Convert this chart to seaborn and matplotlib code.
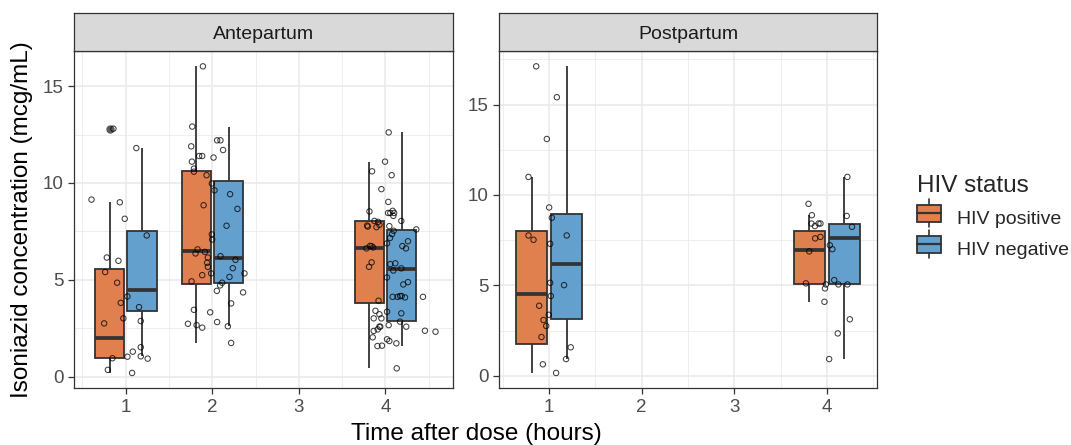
import numpy as np
import pandas as pd
import seaborn as sns
import matplotlib.pyplot as plt
from matplotlib.ticker import MultipleLocator
from matplotlib.patches import Rectangle
from matplotlib.lines import Line2D
from matplotlib.legend_handler import HandlerBase

# ---- data: concentrations (mcg/mL) and jittered x of each drawn point ----
status_levels = ["HIV positive", "HIV negative"]
x_ticks = [1, 2, 3, 4]
y_ticks = [0, 5, 10, 15]

# Antepartum, 1 h
ap1_pos = [0.19, 0.35, 0.93, 0.95, 1.03, 1.29, 2.75, 3.01, 5.40, 5.98, 9.00, 12.80]
ap1_pos_jx = [1.073, 0.793, 1.253, 0.846, 1.019, 1.081, 0.750, 0.972, 0.762, 0.915, 0.931, 0.857]
ap1_neg = [1.05, 1.52, 2.87, 3.59, 3.81, 4.14, 4.85, 6.15, 7.29, 8.15, 9.14, 11.80]
ap1_neg_jx = [1.173, 1.173, 1.173, 1.153, 0.942, 1.019, 0.900, 0.781, 1.242, 0.988, 0.604, 1.122]

# Antepartum, 2 h
ap2_pos = [1.74, 2.53, 2.73, 3.32, 3.78, 4.43, 4.92, 5.24, 5.60, 5.88, 6.15, 6.44,
           6.57, 7.08, 7.79, 8.85, 9.62, 10.58, 10.74, 11.10, 11.39, 11.89, 12.20, 16.02]
ap2_pos_jx = [2.217, 1.883, 1.718, 1.975, 2.217, 2.052, 1.760, 1.883, 2.236, 1.940, 1.948, 1.914,
              1.829, 1.998, 2.164, 1.899, 2.025, 1.787, 1.787, 1.764, 1.848, 1.756, 2.055, 1.891]
ap2_neg = [2.60, 2.66, 2.82, 3.45, 4.35, 4.71, 4.85, 5.15, 5.33, 5.33, 5.67, 6.03,
           6.22, 6.36, 7.34, 8.66, 9.42, 9.97, 10.40, 11.31, 11.39, 11.70, 12.20, 12.91]
ap2_neg_jx = [2.179, 1.818, 2.055, 1.787, 2.355, 2.090, 2.113, 2.198, 1.986, 2.371, 1.948, 2.267,
              2.094, 1.806, 1.994, 2.290, 2.205, 1.994, 1.933, 2.014, 1.883, 2.124, 2.094, 1.768]

# Antepartum, 4 h
ap4_pos = [0.43, 1.72, 2.03, 2.36, 2.58, 3.01, 3.40, 3.92, 4.16, 4.76, 4.88, 5.12, 5.59, 6.62,
           6.67, 6.74, 6.88, 7.36, 7.77, 7.84, 8.04, 8.04, 8.30, 8.45, 8.53, 9.02, 10.60, 11.10]
ap4_pos_jx = [4.130, 4.126, 3.853, 3.864, 3.930, 3.864, 3.884, 3.920, 4.168, 4.206, 4.260, 4.018, 4.183, 3.780,
              3.857, 3.840, 4.018, 4.076, 4.045, 3.930, 3.872, 4.183, 4.091, 4.030, 3.815, 4.033, 3.845, 3.995]
ap4_neg = [1.58, 1.60, 1.84, 1.93, 2.32, 2.37, 2.44, 2.58, 2.58, 2.66, 2.84, 3.01, 3.22, 3.27,
           3.35, 4.09, 4.12, 4.12, 4.12, 4.16, 5.48, 5.67, 5.81, 5.85, 5.90, 6.62, 6.74, 6.75,
           6.99, 7.16, 7.53, 7.60, 7.72, 7.75, 7.80, 7.99, 8.45, 8.45, 8.56, 9.68, 10.40, 12.61]
ap4_neg_jx = [3.907, 3.960, 4.045, 4.018, 4.578, 4.456, 3.910, 3.940, 4.240, 4.037, 4.168, 3.953, 3.930, 4.183,
              4.018, 4.226, 4.083, 4.140, 4.433, 4.187, 4.091, 3.810, 4.056, 4.114, 3.840, 4.237, 4.195, 3.822,
              4.260, 4.053, 4.095, 4.356, 3.896, 3.796, 3.788, 3.915, 4.056, 4.100, 4.083, 3.953, 4.071, 4.037]

# Postpartum, 1 h
pp1_pos = [0.15, 0.63, 2.14, 3.87, 5.14, 7.76, 8.74, 11.00]
pp1_pos_jx = [1.075, 0.932, 0.917, 0.892, 1.011, 0.777, 1.029, 0.777]
pp1_neg = [0.92, 1.57, 2.75, 3.08, 3.37, 4.41, 5.01, 7.30, 7.52, 7.76, 9.31, 13.10, 15.41, 17.12]
pp1_neg_jx = [1.183, 1.233, 0.968, 0.939, 0.996, 1.018, 1.161, 1.011, 0.831, 1.190, 1.000, 0.975, 1.083, 0.860]

# Postpartum, 4 h
pp4_pos = [4.09, 4.83, 5.05, 5.11, 6.88, 7.00, 7.22, 8.24, 8.84, 8.88]
pp4_pos_jx = [3.974, 3.980, 3.990, 3.774, 3.810, 4.060, 4.032, 4.272, 4.215, 3.838]
pp4_neg = [0.92, 2.34, 3.12, 5.05, 5.05, 5.29, 7.60, 7.68, 8.28, 8.42, 8.42, 8.42, 9.51, 11.00]
pp4_neg_jx = [4.025, 4.118, 4.248, 4.125, 4.222, 4.080, 3.874, 3.931, 3.871, 3.834, 3.910, 3.931, 3.802, 4.222]


def build(groups):
    rows = []
    for t, status, vals, jx in groups:
        for v, j in zip(vals, jx):
            rows.append((t, status, v, j))
    return pd.DataFrame(rows, columns=["time", "status", "conc", "jx"])


ante = build([
    (1, "HIV positive", ap1_pos, ap1_pos_jx), (1, "HIV negative", ap1_neg, ap1_neg_jx),
    (2, "HIV positive", ap2_pos, ap2_pos_jx), (2, "HIV negative", ap2_neg, ap2_neg_jx),
    (4, "HIV positive", ap4_pos, ap4_pos_jx), (4, "HIV negative", ap4_neg, ap4_neg_jx),
])
post = build([
    (1, "HIV positive", pp1_pos, pp1_pos_jx), (1, "HIV negative", pp1_neg, pp1_neg_jx),
    (4, "HIV positive", pp4_pos, pp4_pos_jx), (4, "HIV negative", pp4_neg, pp4_neg_jx),
])

# ---- style ----
edge = "#333333"
colors = ["#E0804F", "#64A0CD"]
sns.set_theme(style="whitegrid", rc={
    "axes.edgecolor": edge,
    "axes.linewidth": 0.9,
    "grid.color": "#EBEBEB",
    "grid.linewidth": 1.2,
    "xtick.bottom": True,
    "ytick.left": True,
    "xtick.major.size": 4,
    "ytick.major.size": 4,
    "xtick.major.width": 0.9,
    "ytick.major.width": 0.9,
    "xtick.color": edge,
    "ytick.color": edge,
})
plt.rcParams["font.family"] = ["Liberation Sans", "DejaVu Sans"]

W, H = 1071, 445
fig = plt.figure(figsize=(W / 100, H / 100), dpi=100)

panel_top, panel_bot, strip_top = 51, 388.3, 13.3
dodge_w, gap = 0.75, 0.1
box_half = dodge_w / 2 * (1 - gap / 2)

panels = [("Antepartum", ante, (74.3, 452.7)), ("Postpartum", post, (499, 877))]
for name, df, (x0, x1) in panels:
    ax = fig.add_axes([x0 / W, (H - panel_bot) / H, (x1 - x0) / W, (panel_bot - panel_top) / H])
    ax.set_axisbelow(True)

    # native x scale: width is in units of the smallest gap between times
    step = np.diff(np.unique(df["time"])).min()
    sns.boxplot(
        data=df, x="time", y="conc", hue="status", hue_order=status_levels,
        palette=colors, saturation=1, native_scale=True, width=dodge_w / step, gap=gap,
        linewidth=1.3, linecolor=edge, whis=1.5, showcaps=False,
        medianprops=dict(color=edge, linewidth=2.7),
        flierprops=dict(marker="o", markersize=5, markerfacecolor="#5A5A5A",
                        markeredgecolor="#5A5A5A"),
        legend=False, ax=ax,
    )
    sns.scatterplot(
        data=df, x="jx", y="conc", marker="o", s=15, facecolor="none",
        edgecolor="black", linewidth=0.75, alpha=0.75, zorder=3,
        legend=False, ax=ax,
    )

    # ggplot-like limits: data extent plus 5 % each side
    lo = min(df["jx"].min(), df["time"].min() - box_half)
    hi = max(df["jx"].max(), df["time"].max() + box_half)
    ax.set_xlim(lo - 0.05 * (hi - lo), hi + 0.05 * (hi - lo))
    ylo, yhi = df["conc"].min(), df["conc"].max()
    ax.set_ylim(ylo - 0.05 * (yhi - ylo), yhi + 0.05 * (yhi - ylo))

    ax.set_xticks(x_ticks)
    ax.set_yticks(y_ticks)
    ax.xaxis.set_minor_locator(MultipleLocator(0.5))
    ax.yaxis.set_minor_locator(MultipleLocator(2.5))
    ax.grid(which="major", color="#EBEBEB", linewidth=1.2)
    ax.grid(which="minor", color="#EBEBEB", linewidth=0.6)
    ax.tick_params(which="major", labelsize=13.5, labelcolor="#4D4D4D", pad=3.5)
    ax.tick_params(which="minor", length=0)
    ax.set_xlabel("")
    ax.set_ylabel("")
    for s in ax.spines.values():
        s.set_color(edge)
        s.set_linewidth(0.9)

    # facet strip
    sax = fig.add_axes([x0 / W, (H - panel_top) / H, (x1 - x0) / W, (panel_top - strip_top) / H])
    sax.set_facecolor("#D9D9D9")
    sax.set_xticks([])
    sax.set_yticks([])
    sax.grid(False)
    for s in sax.spines.values():
        s.set_color(edge)
        s.set_linewidth(0.9)
    sax.text(0.5, 0.5, name, ha="center", va="center_baseline", fontsize=14,
             color="#1A1A1A", transform=sax.transAxes)


# legend with boxplot-shaped keys
class BoxKey(HandlerBase):
    def create_artists(self, legend, orig, xd, yd, w, h, fs, trans):
        cx = xd + w / 2
        box = Rectangle((xd, yd), w, h, facecolor=orig.get_facecolor(),
                        edgecolor=edge, linewidth=1.3, transform=trans)
        med = Line2D([xd, xd + w], [yd + h / 2] * 2, color=edge, linewidth=1.6, transform=trans)
        up = Line2D([cx, cx], [yd + h, yd + h * 1.3], color=edge, linewidth=1.2, transform=trans)
        dn = Line2D([cx, cx], [yd, yd - h * 0.3], color=edge, linewidth=1.2, transform=trans)
        return [box, med, up, dn]


handles = [Rectangle((0, 0), 1, 1, facecolor=c) for c in colors]
fig.legend(handles, status_levels, title="HIV status", loc="center left",
           bbox_to_anchor=(917 / W, 1 - 217 / H), frameon=False, fontsize=14,
           title_fontsize=17.5, alignment="left", handlelength=1.25, handleheight=1.0,
           handletextpad=0.8, labelspacing=0.6, borderpad=0, borderaxespad=0,
           handler_map={Rectangle: BoxKey()})

fig.text(476 / W, 1 - 434 / H, "Time after dose (hours)", ha="center", va="center",
         fontsize=17.5, color="black")
fig.text(22 / W, 1 - 220 / H, "Isoniazid concentration (mcg/mL)", ha="center", va="center",
         rotation=90, fontsize=17.5, color="black")

fig.savefig("out.png", dpi=100)
